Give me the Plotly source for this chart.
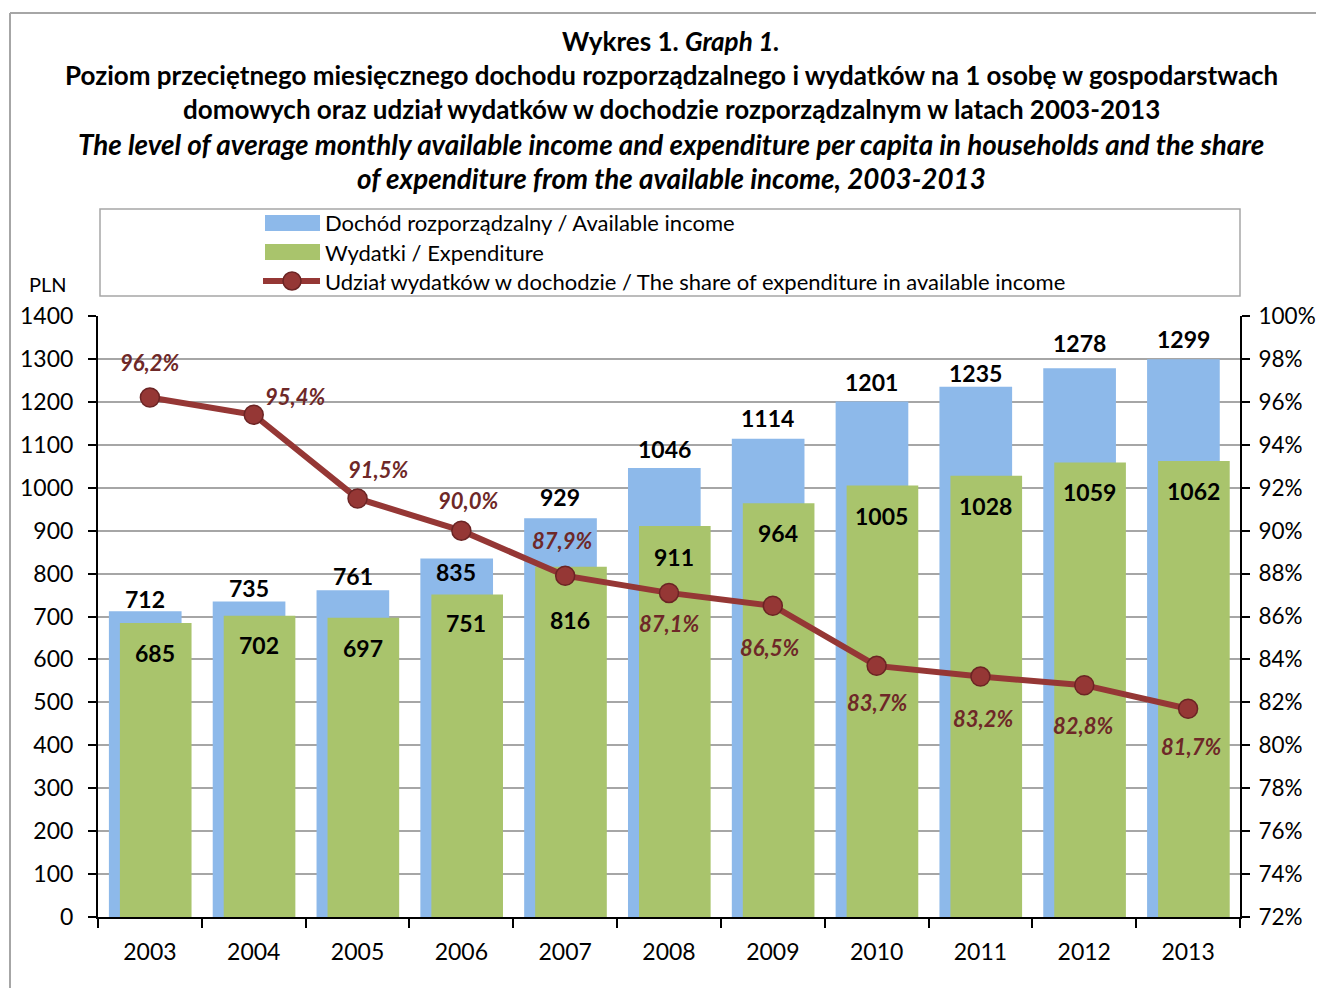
import plotly.graph_objects as go

years = ["2003", "2004", "2005", "2006", "2007", "2008", "2009", "2010", "2011", "2012", "2013"]
income = [712, 735, 761, 835, 929, 1046, 1114, 1201, 1235, 1278, 1299]
expenditure = [685, 702, 697, 751, 816, 911, 964, 1005, 1028, 1059, 1062]
share = [96.2, 95.4, 91.5, 90.0, 87.9, 87.1, 86.5, 83.7, 83.2, 82.8, 81.7]

title_lines = [
    "<b>Wykres 1. <i>Graph 1.</i></b>",
    "<b>Poziom przeciętnego miesięcznego dochodu rozporządzalnego i wydatków na 1 osobę w gospodarstwach</b>",
    "<b>domowych oraz udział wydatków w dochodzie rozporządzalnym w latach 2003-2013</b>",
    "<b><i>The level of average monthly available income and expenditure per capita in households and the share</i></b>",
    "<b><i>of expenditure from the available income, 2003-2013</i></b>",
]
title_sizes = [26, 26, 26, 27.8, 27.8]
legend_names = [
    "Dochód rozporządzalny / Available income",
    "Wydatki / Expenditure",
    "Udział wydatków w dochodzie / The share of expenditure in available income",
]

# label placement offsets (pixels)
income_label_dy = [12, 13, 14, -13, 21, 19, 21, 19, 14, 25, 20]
exp_label_dy = [-30, -29, -30, -28, -53, -31, -30, -30, -30, -30, -30]
share_label_dx = [0, 41, 20, 7, -3, 0, -3, 0, 3, -1, 3]
share_label_dy = [35, 18, 29, 30, 35, -31, -42, -37, -42, -40, -38]

BLUE = "#8DB9EA"
GREEN = "#A9C46C"
RED = "#953735"
LABEL_RED = "#6E2828"
FONT = "Lato"

# page offset of the figure (body margin) is 8px
OFF = 8
W, H = 1324 - OFF, 988 - OFF
L, R, T, B = 98, 1240, 316, 917   # plot area in page pixels


def px(x):
    return (x - L) / (R - L)


def py(y):
    return (B - y) / (B - T)


fig = go.Figure()
fig.add_trace(go.Bar(x=years, y=income, name=legend_names[0], marker=dict(color=BLUE, line=dict(width=0)),
                     width=0.70, offset=-0.395, showlegend=False))
fig.add_trace(go.Bar(x=years, y=expenditure, name=legend_names[1], marker=dict(color=GREEN, line=dict(width=0)),
                     width=0.69, offset=-0.289, showlegend=False))
fig.add_trace(go.Scatter(x=years, y=share, name=legend_names[2], yaxis="y2", mode="lines+markers",
                         line=dict(color=RED, width=6),
                         marker=dict(size=19, color=RED, line=dict(color="#6B2424", width=1.5)),
                         showlegend=False))

ann = []
for i, y in enumerate(years):
    ann.append(dict(x=i, y=income[i], xref="x", yref="y", text=f"<b>{income[i]}</b>", showarrow=False,
                    xshift=-5, yshift=income_label_dy[i], xanchor="center", yanchor="middle",
                    font=dict(family=FONT, size=23, color="black")))
    ann.append(dict(x=i, y=expenditure[i], xref="x", yref="y", text=f"<b>{expenditure[i]}</b>", showarrow=False,
                    xshift=5, yshift=exp_label_dy[i], xanchor="center", yanchor="middle",
                    font=dict(family=FONT, size=23, color="black")))
    ann.append(dict(x=i, y=share[i], xref="x", yref="y2",
                    text="<b><i>" + f"{share[i]:.1f}".replace(".", ",") + "%</i></b>", showarrow=False,
                    xshift=share_label_dx[i], yshift=share_label_dy[i], xanchor="center", yanchor="middle",
                    font=dict(family=FONT, size=22, color=LABEL_RED)))

title_y = [41, 75, 109, 144, 178]
for t, yy, sz in zip(title_lines, title_y, title_sizes):
    ann.append(dict(x=px(671), y=py(yy), xref="paper", yref="paper", text=t, showarrow=False,
                    xanchor="center", yanchor="middle", font=dict(family=FONT, size=sz, color="black")))

ann.append(dict(x=px(48), y=py(284), xref="paper", yref="paper", text="PLN", showarrow=False,
                xanchor="center", yanchor="middle", font=dict(family=FONT, size=20, color="black")))

leg_y = [223, 252, 281]
for name, yy in zip(legend_names, leg_y):
    ann.append(dict(x=px(323), y=py(yy), xref="paper", yref="paper", text=name, showarrow=False,
                    xanchor="left", yanchor="middle", font=dict(family=FONT, size=22, color="black")))

shapes = [
    # outer frame
    dict(type="line", xref="paper", yref="paper", x0=px(10), x1=px(1330), y0=py(13), y1=py(13),
         line=dict(color="#A6A6A6", width=2)),
    dict(type="line", xref="paper", yref="paper", x0=px(10), x1=px(10), y0=py(13), y1=py(990),
         line=dict(color="#A6A6A6", width=2)),
    # legend box
    dict(type="rect", xref="paper", yref="paper", x0=px(100), x1=px(1240), y0=py(209), y1=py(296),
         line=dict(color="#A6A6A6", width=1.5), fillcolor="rgba(0,0,0,0)"),
    # legend swatches
    dict(type="rect", xref="paper", yref="paper", x0=px(265), x1=px(320), y0=py(231), y1=py(215),
         line=dict(width=0), fillcolor=BLUE),
    dict(type="rect", xref="paper", yref="paper", x0=px(265), x1=px(320), y0=py(260), y1=py(244),
         line=dict(width=0), fillcolor=GREEN),
    dict(type="line", xref="paper", yref="paper", x0=px(263), x1=px(320), y0=py(281), y1=py(281),
         line=dict(color=RED, width=6)),
    dict(type="circle", xref="paper", yref="paper", x0=px(283), x1=px(301), y0=py(290), y1=py(272),
         line=dict(color="#6B2424", width=1.5), fillcolor=RED),
]

fig.update_layout(
    width=W, height=H,
    margin=dict(l=L - OFF, r=(W + OFF) - R, t=T - OFF, b=(H + OFF) - B, autoexpand=False),
    paper_bgcolor="white", plot_bgcolor="white",
    barmode="overlay",
    showlegend=False,
    font=dict(family=FONT, size=22, color="black"),
    xaxis=dict(type="category", range=[-0.5, 10.5], showline=True, linecolor="black", linewidth=2,
               automargin=False,
               ticks="outside", tickson="boundaries", ticklen=9, tickwidth=2, tickcolor="black",
               tickfont=dict(family=FONT, size=23, color="black"), showgrid=False, ticklabelstandoff=13),
    yaxis=dict(range=[0, 1400], dtick=100, showline=True, linecolor="black", linewidth=2,
               automargin=False,
               ticks="outside", ticklen=8, tickwidth=2, tickcolor="black", ticklabelstandoff=10,
               showgrid=True, gridcolor="#A6A6A6", gridwidth=2, zeroline=False,
               tickfont=dict(family=FONT, size=23, color="black")),
    yaxis2=dict(range=[72, 100], dtick=2, overlaying="y", side="right", showline=True, linecolor="black",
                automargin=False,
                linewidth=2, ticks="outside", ticklen=8, tickwidth=2, tickcolor="black", ticksuffix="%",
                ticklabelstandoff=4,
                showgrid=False, zeroline=False, tickfont=dict(family=FONT, size=22.5, color="black")),
    annotations=ann,
    shapes=shapes,
)

fig.write_html("out.html")
